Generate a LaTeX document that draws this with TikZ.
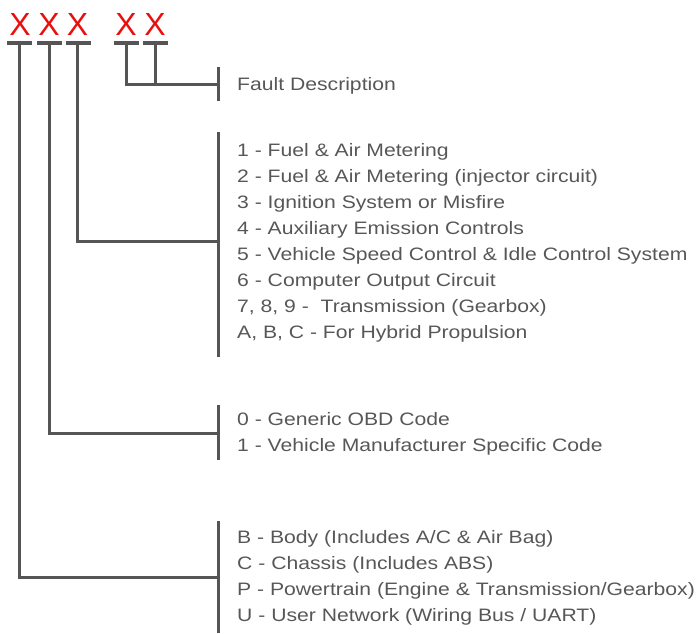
\documentclass[tikz,border=0pt]{standalone}
\usepackage{fontspec}
\setmainfont{Liberation Sans}
\newfontfamily\descfont[FakeStretch=1.175]{Liberation Sans}
\definecolor{linegray}{HTML}{555555}
\definecolor{textgray}{HTML}{575757}
\definecolor{xred}{HTML}{E8100F}
\begin{document}
\begin{tikzpicture}[x=1pt,y=-1pt,
  conn/.style={draw=linegray, line width=3pt},
  bar/.style={draw=linegray, line width=4pt},
  brk/.style={draw=linegray, line width=3pt},
  xchar/.style={text=xred, font=\fontsize{32}{32}\selectfont, inner sep=0pt, anchor=base},
  desc/.style={text=textgray, font=\descfont\fontsize{18}{26}\selectfont, inner sep=0pt, anchor=base west}]
\useasboundingbox (0,0) rectangle (700,633);
% code characters
\node[xchar] (x1) at (20,35) {X};
\node[xchar] (x2) at (49,35) {X};
\node[xchar] (x3) at (77.5,35) {X};
\node[xchar] (x4) at (126,35) {X};
\node[xchar] (x5) at (155,35) {X};
% bars under characters
\draw[bar] (7,42.5) -- (32,42.5);
\draw[bar] (37,42.5) -- (62,42.5);
\draw[bar] (66,42.5) -- (91,42.5);
\draw[bar] (114,42.5) -- (139,42.5);
\draw[bar] (143,42.5) -- (168,42.5);
\coordinate (b1) at (19,42.5);
\coordinate (b2) at (49,42.5);
\coordinate (b3) at (77,42.5);
\coordinate (b4) at (126,42.5);
\coordinate (b5) at (155,42.5);
% bracket joints
\coordinate (k1) at (218,84);
\coordinate (k2) at (218,241);
\coordinate (k3) at (218,433);
\coordinate (k4) at (218,577);
% brackets
\draw[brk] (218,67) -- (218,101);
\draw[brk] (218,132) -- (218,357);
\draw[brk] (218,405) -- (218,460);
\draw[brk] (218,521) -- (218,633);
% connectors
\draw[conn] (b1) |- (k4);
\draw[conn] (b2) |- (k3);
\draw[conn] (b3) |- (k2);
\draw[conn] (b4) |- (k1);
\draw[conn] (b5) -- (b5 |- k1);
% texts
\node[desc] (t0) at (237,90.5) {Fault Description};
\node[desc] (a1) at (237,156.5) {1 - Fuel \& Air Metering};
\node[desc] (a2) at (237,182.5) {2 - Fuel \& Air Metering (injector circuit)};
\node[desc] (a3) at (237,208.5) {3 - Ignition System or Misfire};
\node[desc] (a4) at (237,234.5) {4 - Auxiliary Emission Controls};
\node[desc] (a5) at (237,260.5) {5 - Vehicle Speed Control \& Idle Control System};
\node[desc] (a6) at (237,286.5) {6 - Computer Output Circuit};
\node[desc] (a7) at (237,312.5) {7, 8, 9 -\ \ Transmission (Gearbox)};
\node[desc] (a8) at (237,338.5) {A, B, C - For Hybrid Propulsion};
\node[desc] (c1) at (237,425.5) {0 - Generic OBD Code};
\node[desc] (c2) at (237,451.5) {1 - Vehicle Manufacturer Specific Code};
\node[desc] (d1) at (237,543.5) {B - Body (Includes A/C \& Air Bag)};
\node[desc] (d2) at (237,569.5) {C - Chassis (Includes ABS)};
\node[desc] (d3) at (237,595.5) {P - Powertrain (Engine \& Transmission/Gearbox)};
\node[desc] (d4) at (237,621.5) {U - User Network (Wiring Bus / UART)};
\end{tikzpicture}
\end{document}
